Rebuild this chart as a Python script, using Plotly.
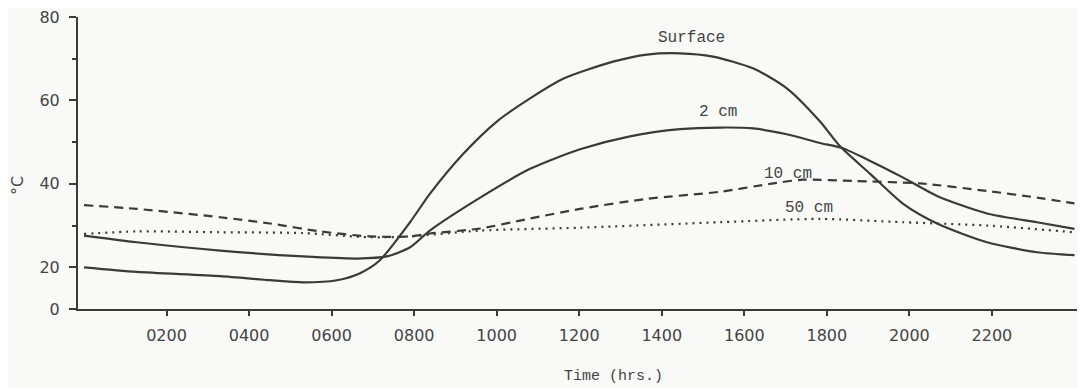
import plotly.graph_objects as go

# ---- data (hours, degrees C) ----
surface_h = [0, 128, 330, 451, 531, 613, 669, 717, 790, 838, 918, 1001, 1081, 1161, 1282, 1364, 1444, 1524, 1621, 1703, 1783, 1832, 1905, 1985, 2067, 2188, 2309, 2400]
surface_t = [20.0, 18.9, 17.9, 16.9, 16.4, 16.9, 18.6, 21.7, 30.8, 37.6, 47.1, 55.0, 60.5, 65.2, 69.3, 71.0, 71.3, 70.5, 67.7, 62.9, 55.0, 49.0, 42.4, 35.2, 30.5, 26.0, 23.6, 22.9]

cm2_h = [0, 128, 330, 531, 662, 734, 790, 838, 960, 1081, 1202, 1323, 1444, 1541, 1621, 1703, 1783, 1837, 1905, 1985, 2067, 2188, 2309, 2400]
cm2_t = [27.6, 26.0, 24.0, 22.6, 22.1, 22.6, 24.8, 28.8, 36.7, 43.6, 48.3, 51.4, 53.1, 53.5, 53.3, 51.9, 49.8, 48.6, 45.5, 41.5, 37.1, 32.9, 30.8, 29.2]

cm10_h = [0, 128, 330, 451, 572, 693, 790, 838, 960, 1081, 1202, 1364, 1541, 1662, 1742, 1863, 2026, 2188, 2309, 2400]
cm10_t = [34.9, 34.0, 32.0, 30.5, 28.6, 27.4, 27.4, 28.1, 29.3, 31.7, 34.0, 36.4, 38.1, 40.0, 41.0, 40.7, 40.1, 38.3, 36.7, 35.3]

cm50_h = [0, 128, 330, 531, 693, 790, 960, 1202, 1541, 1783, 1985, 2188, 2400]
cm50_t = [28.0, 28.6, 28.4, 28.2, 27.2, 27.4, 28.8, 29.5, 30.8, 31.6, 30.8, 30.0, 28.4]

x_tickvals = [200, 400, 600, 800, 1000, 1200, 1400, 1600, 1800, 2000, 2200]
x_ticktext = ["0200", "0400", "0600", "0800", "1000", "1200", "1400", "1600", "1800", "2000", "2200"]
y_tickvals = [10, 20, 40, 60, 80]
y_ticktext = ["0", "20", "40", "60", "80"]
y_minor = [30, 50, 70]

labels = ["Surface", "2 cm", "10 cm", "50 cm"]
label_h = [1471, 1536, 1706, 1757]
label_t = [75.0, 57.2, 42.4, 34.3]

INK = "#3a3a3a"
BG = "#f9f9f7"
SM = 0.7

fig = go.Figure()
fig.add_trace(go.Scatter(x=surface_h, y=surface_t, mode="lines", line=dict(color=INK, width=2.2, shape="spline", smoothing=SM)))
fig.add_trace(go.Scatter(x=cm2_h, y=cm2_t, mode="lines", line=dict(color=INK, width=2.2, shape="spline", smoothing=SM)))
fig.add_trace(go.Scatter(x=cm10_h, y=cm10_t, mode="lines", line=dict(color=INK, width=2.2, dash="9px,6px", shape="spline", smoothing=SM)))
fig.add_trace(go.Scatter(x=cm50_h, y=cm50_t, mode="lines", line=dict(color=INK, width=2.2, dash="2px,5px", shape="spline", smoothing=SM)))

for t, h, v in zip(labels, label_h, label_t):
    fig.add_annotation(x=h, y=v, xref="x", yref="y", text=t, showarrow=False,
                       xanchor="center", yanchor="middle",
                       font=dict(family="Liberation Mono", size=16, color="#444"))

fig.add_annotation(x=0.532, y=-0.231, xref="paper", yref="paper", text="Time (hrs.)", showarrow=False,
                   xanchor="center", yanchor="middle",
                   font=dict(family="Liberation Mono", size=15, color="#444"))
fig.add_annotation(x=-0.0596, y=0.425, xref="paper", yref="paper", text="°C", showarrow=False, textangle=-90,
                   xanchor="center", yanchor="middle",
                   font=dict(family="DejaVu Sans", size=16, color="#444"))

fig.update_layout(
    width=1077, height=380,
    margin=dict(l=70, r=0, t=7, b=79),
    paper_bgcolor=BG, plot_bgcolor=BG,
    showlegend=False,
    xaxis=dict(range=[-14.5, 2425.5], showgrid=False, zeroline=False,
               showline=True, linecolor=INK, linewidth=2,
               tickmode="array", tickvals=x_tickvals, ticktext=x_ticktext,
               ticks="outside", ticklen=5, tickwidth=1.5, tickcolor=INK,
               ticklabelstandoff=6,
               tickfont=dict(family="DejaVu Sans", size=16, color="#444")),
    yaxis=dict(range=[10, 80], showgrid=False, zeroline=False,
               showline=True, linecolor=INK, linewidth=2,
               tickmode="array", tickvals=y_tickvals, ticktext=y_ticktext,
               ticks="outside", ticklen=7, tickwidth=1.5, tickcolor=INK,
               ticklabelstandoff=6, ticklabeloverflow="allow",
               minor=dict(tickvals=y_minor, ticks="outside", ticklen=4, tickcolor=INK, tickwidth=1.5),
               tickfont=dict(family="DejaVu Sans", size=16, color="#444")),
)

fig.write_html("out.html")
